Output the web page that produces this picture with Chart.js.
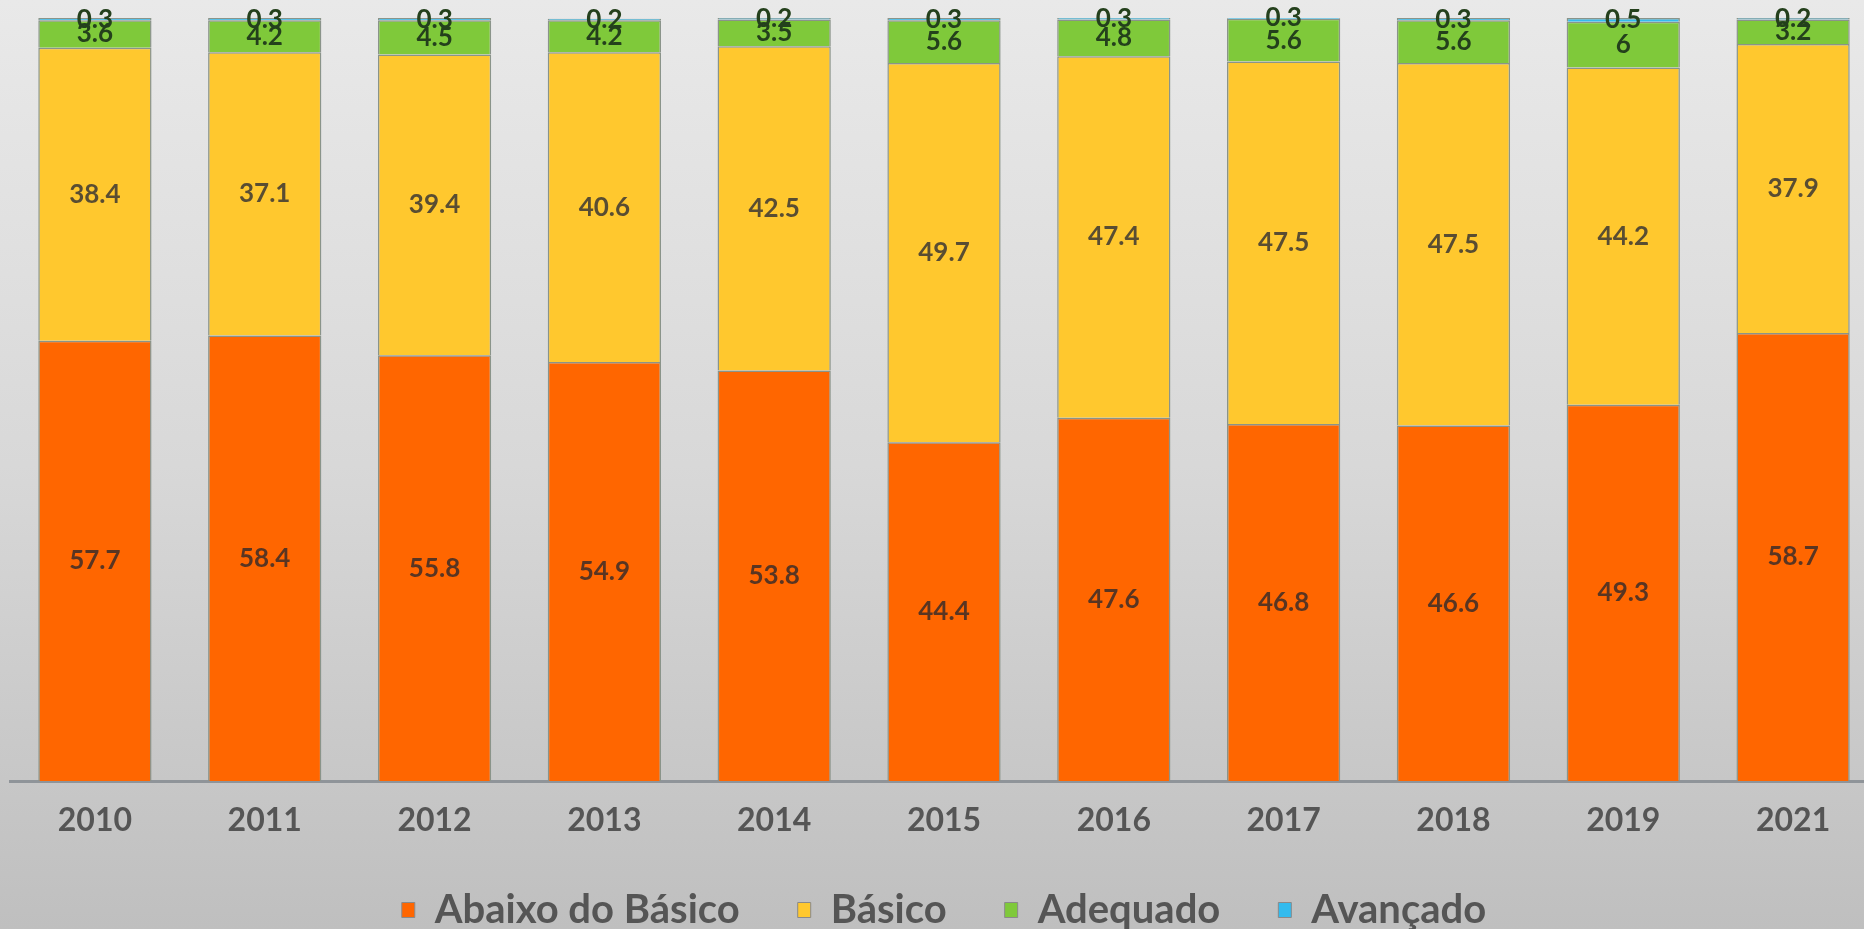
<!DOCTYPE html>
<html>
<head>
<meta charset="utf-8">
<script src="https://cdn.jsdelivr.net/npm/chart.js@4/dist/chart.umd.min.js"></script>
<style>
  html, body { margin: 0; padding: 0; overflow: hidden; }
  body {
    width: 1864px; height: 929px;
    background: linear-gradient(to bottom, #e9e9e9 0%, #d8d8d8 50%, #bfbfbf 100%);
  }
  #wrap { position: absolute; left: 0; top: 0; width: 1878px; height: 929px; }
</style>
</head>
<body>
<div id="wrap"><canvas id="niveis"></canvas></div>
<script>
const anos = ['2010', '2011', '2012', '2013', '2014', '2015', '2016', '2017', '2018', '2019', '2021'];
const abaixoBasico = [57.7, 58.4, 55.8, 54.9, 53.8, 44.4, 47.6, 46.8, 46.6, 49.3, 58.7];
const basico = [38.4, 37.1, 39.4, 40.6, 42.5, 49.7, 47.4, 47.5, 47.5, 44.2, 37.9];
const adequado = [3.6, 4.2, 4.5, 4.2, 3.5, 5.6, 4.8, 5.6, 5.6, 6, 3.2];
const avancado = [0.3, 0.3, 0.3, 0.2, 0.2, 0.3, 0.3, 0.3, 0.3, 0.5, 0.2];

const fonte = 'Lato, "Open Sans", sans-serif';

// rótulos de valor no meio de cada segmento
const rotulos = {
  id: 'rotulos',
  afterDatasetsDraw(chart) {
    const ctx = chart.ctx;
    ctx.save();
    ctx.font = 'bold 26px ' + fonte;
    ctx.textAlign = 'center';
    ctx.textBaseline = 'middle';
    chart.data.datasets.forEach((ds, i) => {
      const meta = chart.getDatasetMeta(i);
      ctx.fillStyle = ds.corRotulo;
      meta.data.forEach((bar, j) => {
        const p = bar.getProps(['x', 'y', 'base'], true);
        ctx.fillText(String(ds.data[j]), p.x, (p.y + p.base) / 2);
      });
    });
    ctx.restore();
  }
};

// o eixo x fica baixo para a legenda subir; alarga a área de corte dos anos
const corteEixo = {
  id: 'corteEixo',
  afterLayout(chart) { chart.scales.x.bottom += 40; }
};

new Chart(document.getElementById('niveis').getContext('2d'), {
  type: 'bar',
  data: {
    labels: anos,
    datasets: [
      { label: 'Abaixo do Básico', data: abaixoBasico, backgroundColor: '#ff6600', corRotulo: 'rgba(60,45,40,0.85)' },
      { label: 'Básico', data: basico, backgroundColor: '#ffc82e', corRotulo: 'rgba(60,55,50,0.85)' },
      { label: 'Adequado', data: adequado, backgroundColor: '#7fc93a', corRotulo: '#24401c' },
      { label: 'Avançado', data: avancado, backgroundColor: '#33bbee', corRotulo: '#24401c' }
    ]
  },
  options: {
    responsive: true,
    maintainAspectRatio: false,
    animation: false,
    layout: { padding: { left: 10, right: 0, top: 18, bottom: -11 } },
    datasets: {
      bar: {
        borderColor: '#8a948a',
        borderWidth: 1.5,
        categoryPercentage: 1,
        barPercentage: 0.667
      }
    },
    scales: {
      x: {
        stacked: true,
        grid: { display: false, drawTicks: false },
        border: { display: true, color: '#8f9499', width: 3 },
        ticks: { color: '#555555', font: { family: fonte, size: 32, weight: 'bold' }, padding: 20 },
        afterFit(scale) { scale.height = 51; }
      },
      y: {
        stacked: true,
        display: false,
        min: 0,
        max: 100
      }
    },
    plugins: {
      legend: {
        position: 'bottom',
        labels: {
          color: '#555555',
          font: { family: fonte, size: 40, weight: 'bold' },
          boxWidth: 13,
          boxHeight: 15,
          padding: 58,
          generateLabels(chart) {
            return chart.data.datasets.map((ds, i) => ({
              text: ds.label,
              fillStyle: ds.backgroundColor,
              strokeStyle: '#8a8a8a',
              lineWidth: 1,
              fontColor: '#555555',
              hidden: false,
              datasetIndex: i
            }));
          }
        }
      },
      tooltip: { enabled: false }
    }
  },
  plugins: [rotulos, corteEixo]
});
</script>
</body>
</html>
